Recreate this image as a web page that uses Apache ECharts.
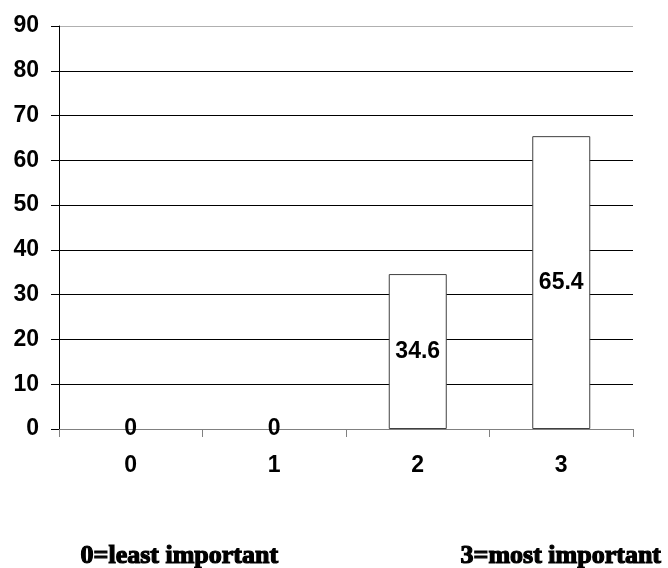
<!DOCTYPE html>
<html>
<head>
<meta charset="utf-8">
<script src="https://cdn.jsdelivr.net/npm/echarts@6/dist/echarts.min.js"></script>
<style>html,body{margin:0;padding:0;background:#fff;}#c{width:668px;height:568px;}</style>
</head>
<body>
<div id="c"></div>
<script>
var categories = ['0', '1', '2', '3'];
var values = [0, 0, 34.6, 65.4];
var noteLeft = '0=least important';
var noteRight = '3=most important';

var chart = echarts.init(document.getElementById('c'), null, {renderer: 'canvas'});
var gridColors = ['#000','#000','#000','#000','#000','#000','#000','#000','#000','#b0b0b0'];
var barData = values.map(function (v) {
  return {value: v, itemStyle: {borderWidth: v === 0 ? 0 : 1}};
});
var labelFont = {color: '#000', fontFamily: 'Liberation Sans', fontWeight: 'bold', fontSize: 23};
chart.setOption({
  animation: false,
  backgroundColor: '#fff',
  grid: {left: 59, right: 35, top: 26, bottom: 139, containLabel: false},
  xAxis: {
    type: 'category',
    data: categories,
    axisLine: {show: true, lineStyle: {color: '#808080', width: 1}},
    axisTick: {show: true, alignWithLabel: false, length: 8, lineStyle: {color: '#808080'}},
    axisLabel: Object.assign({margin: 25}, labelFont),
    splitLine: {show: false}
  },
  yAxis: {
    type: 'value',
    min: 0, max: 90, interval: 10,
    axisLine: {show: true, lineStyle: {color: '#000', width: 1}},
    axisTick: {show: true, inside: false, length: 8, lineStyle: {color: '#000'}},
    axisLabel: Object.assign({margin: 20}, labelFont),
    splitLine: {show: true, lineStyle: {color: gridColors, width: 1}}
  },
  series: [{
    type: 'bar',
    data: barData,
    barWidth: 58,
    itemStyle: {color: '#fff', borderColor: '#404040', borderWidth: 1},
    label: Object.assign({show: true, position: 'inside'}, labelFont)
  }],
  graphic: [
    {type: 'text', left: 80, top: 543, style: {text: noteLeft, fill: '#000', font: 'bold 26px "Liberation Serif"', stroke: '#000', lineWidth: 1.2}},
    {type: 'text', left: 460, top: 543, style: {text: noteRight, fill: '#000', font: 'bold 26px "Liberation Serif"', stroke: '#000', lineWidth: 1.2}}
  ]
});
</script>
</body>
</html>
